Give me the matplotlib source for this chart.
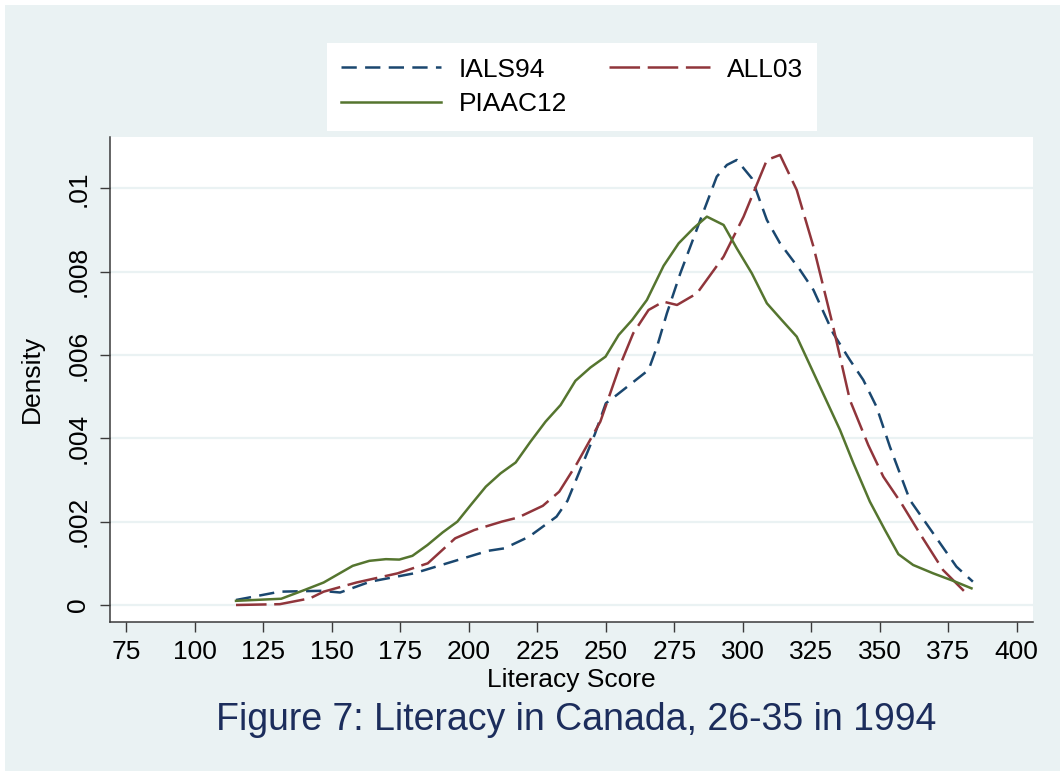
import matplotlib.pyplot as plt
from matplotlib.patches import Rectangle

plt.rcParams['font.family'] = ['Liberation Sans', 'DejaVu Sans']
plt.rcParams['lines.scale_dashes'] = False

# kernel density curves
score_ials = [115, 131, 146, 153, 164, 180, 190, 207, 213, 222, 232, 236, 241, 246, 250, 254,
              265.6, 268.7, 272.3, 277.2, 284.5, 290.5, 294.2, 297.8, 303.3, 305.7, 308.8,
              313.6, 320.9, 325.8, 333, 339.1, 344, 348.8, 353.7, 361, 369.5, 378, 384]
dens_ials = [0.00012, 0.00032, 0.00034, 0.00030, 0.00056, 0.00076, 0.00096, 0.00130, 0.00136,
             0.00164, 0.00212, 0.00250, 0.00330, 0.00410, 0.00484, 0.00504, 0.00564, 0.00620,
             0.00700, 0.00796, 0.00924, 0.01028, 0.01056, 0.01068, 0.01024, 0.00980, 0.00924,
             0.00868, 0.00804, 0.00756, 0.00652, 0.00588, 0.00540, 0.00476, 0.00380, 0.00252,
             0.00172, 0.00092, 0.00056]

score_all = [115, 131, 142, 147, 159, 174, 185, 195, 202, 212, 218, 227, 233, 239.5, 248, 255,
             260, 265.6, 271, 276, 283.3, 293, 300.3, 308.8, 313.6, 319.7, 325.8, 333, 339.1,
             345.8, 351.3, 357.9, 364.6, 373.1, 381.6]
dens_all = [0.0, 0.00002, 0.00016, 0.00032, 0.00054, 0.00076, 0.00100, 0.00160, 0.00180,
            0.00200, 0.00210, 0.00238, 0.00272, 0.00340, 0.00440, 0.00572, 0.00652, 0.00708,
            0.00728, 0.00720, 0.00748, 0.00836, 0.00932, 0.01068, 0.01080, 0.00996, 0.00860,
            0.00668, 0.00492, 0.00384, 0.00308, 0.00244, 0.00172, 0.00084, 0.00028]

score_piaac = [115, 131.5, 140, 147, 157.6, 163.7, 169.7, 174.6, 179.4, 184.9, 190.4, 195.8,
               200.7, 206.2, 211.6, 217.1, 222.5, 228, 233.5, 238.9, 244.4, 249.9, 254.7, 259.6,
               265, 271.1, 276.6, 282, 286.9, 293, 297.8, 303.3, 308.8, 314.2, 319.7, 327.6,
               335.5, 340.4, 346.4, 351.9, 356.8, 362.2, 369.5, 376.8, 383.5]
dens_piaac = [0.00010, 0.00015, 0.00036, 0.00054, 0.00094, 0.00106, 0.00110, 0.00109, 0.00118,
              0.00144, 0.00174, 0.00200, 0.00240, 0.00284, 0.00316, 0.00342, 0.00392, 0.00440,
              0.00480, 0.00538, 0.00570, 0.00596, 0.00648, 0.00684, 0.00732, 0.00814, 0.00868,
              0.00904, 0.00932, 0.00912, 0.00856, 0.00796, 0.00724, 0.00684, 0.00644, 0.00532,
              0.00420, 0.00340, 0.00248, 0.00180, 0.00122, 0.00096, 0.00076, 0.00058, 0.00040]

x_ticks = list(range(75, 401, 25))
y_ticks = [0, 0.002, 0.004, 0.006, 0.008, 0.01]
y_tick_labels = ['0', '.002', '.004', '.006', '.008', '.01']

W, H = 1060, 771
bg = '#eaf2f3'
fig = plt.figure(figsize=(W / 100, H / 100), dpi=100)
fig.patch.set_facecolor('white')
fig.patches.append(Rectangle((5 / W, 0), 1, 1 - 5 / H, transform=fig.transFigure,
                             facecolor=bg, edgecolor='none', zorder=-10))

ax = fig.add_axes([110 / W, 1 - 622 / H, (1033 - 110) / W, (622 - 137) / H])
ax.set_facecolor('white')

l1, = ax.plot(score_ials, dens_ials, color='#1a476f', lw=1.8, ls=(0, (11, 6)), label='IALS94')
l2, = ax.plot(score_all, dens_all, color='#90353b', lw=1.8, ls=(0, (22, 5.5)), label='ALL03')
l3, = ax.plot(score_piaac, dens_piaac, color='#55752f', lw=1.8, label='PIAAC12')

ax.set_xlim(69.0, 405.95)
ax.set_ylim(-0.000408, 0.011231)
ax.set_xticks(x_ticks)
ax.set_yticks(y_ticks)
ax.set_yticklabels(y_tick_labels, rotation=90, va='center')

ax.yaxis.grid(True, color=bg, lw=1.6)
ax.set_axisbelow(True)
for s in ['top', 'right']:
    ax.spines[s].set_visible(False)
for s in ['left', 'bottom']:
    ax.spines[s].set_color('#3a3a3a')
    ax.spines[s].set_linewidth(1.1)
ax.tick_params(direction='out', length=7.2, width=1, color='#3a3a3a', labelsize=19)
ax.tick_params(axis='x', pad=6)
ax.tick_params(axis='y', pad=7)

fig.text(571.5 / W, 1 - 680 / H, 'Literacy Score', ha='center', va='center', fontsize=19)
fig.text(32 / W, 1 - 379 / H, 'Density', ha='center', va='center', rotation=90, fontsize=19)
fig.text(576 / W, 1 - 720 / H, 'Figure 7: Literacy in Canada, 26-35 in 1994',
         ha='center', va='center', fontsize=27, color='#1c2d5c')

# column-first fill: IALS94 / PIAAC12 in column one, ALL03 in column two
ax.legend([l1, l3, l2], ['IALS94', 'PIAAC12', 'ALL03'],
          loc='upper center', bbox_to_anchor=(572 / W, 1 - 43 / H), bbox_transform=fig.transFigure,
          ncol=2, fontsize=19, frameon=True, fancybox=False, edgecolor='none', facecolor='white',
          framealpha=1, handlelength=3.8, handletextpad=0.65, columnspacing=1.6,
          borderpad=0.55, labelspacing=0.4, borderaxespad=0)

fig.savefig('out.png', dpi=100, facecolor=fig.get_facecolor())
